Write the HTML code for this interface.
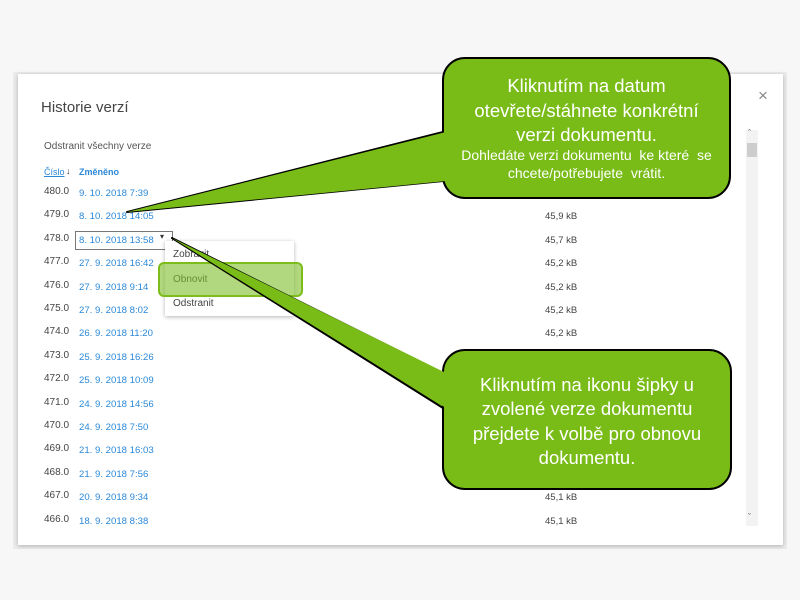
<!DOCTYPE html>
<html><head><meta charset="utf-8"><style>
*{margin:0;padding:0;box-sizing:border-box}
body{width:800px;height:600px;background:#f7f7f7;position:relative;overflow:hidden;font-family:"Liberation Sans",sans-serif}
.abs{position:absolute;white-space:nowrap}
#frame{position:absolute;left:13px;top:72px;width:774px;height:477px;background:#ebebeb}
#dlg{position:absolute;left:18px;top:74px;width:765px;height:471px;background:#fff;box-shadow:0 1px 4px rgba(0,0,0,.25)}
.n{font-size:10px;color:#444;left:44px}
.d{font-size:9.6px;color:#2b88d8;left:79px}
.s{font-size:9.5px;color:#444;left:545px}
</style></head><body>
<div id="frame"></div>
<div id="dlg"></div>
<div class="abs" style="left:41px;top:99px;font-size:15px;color:#444">Historie verzí</div>
<div class="abs" style="left:758px;top:86px;font-size:17px;color:#888">×</div>
<div class="abs" style="left:44px;top:141px;font-size:10px;color:#555">Odstranit všechny verze</div>
<div class="abs" style="left:44px;top:167px;font-size:9px;color:#2b88d8;text-decoration:underline">Číslo</div>
<div class="abs" style="left:66px;top:166px;font-size:9px;color:#333">↓</div>
<div class="abs" style="left:79px;top:167px;font-size:9px;color:#2b88d8;font-weight:bold">Změněno</div>
<div style="position:absolute;left:746px;top:130px;width:12px;height:396px;background:#f3f3f3"></div>
<div style="position:absolute;left:747px;top:143px;width:10px;height:14px;background:#cdcdcd"></div>
<div class="abs" style="left:748px;top:128px;font-size:9px;color:#555">ˆ</div>
<div class="abs" style="left:748px;top:512px;font-size:9px;color:#555">ˇ</div>
<div style="position:absolute;left:75px;top:231px;width:98px;height:19px;border:1px solid #777"></div>
<div class="abs" style="left:160px;top:232px;font-size:8px;color:#333">▾</div>
<div id="rows"></div>
<div style="position:absolute;left:165px;top:241px;width:129px;height:75px;background:#fff;box-shadow:0 1px 4px rgba(0,0,0,.3)"></div>
<div class="abs" style="left:173px;top:249px;font-size:10px;color:#444">Zobrazit</div>
<div class="abs" style="left:173px;top:274px;font-size:10px;color:#444">Obnovit</div>
<div class="abs" style="left:173px;top:298px;font-size:10px;color:#444">Odstranit</div>
<div style="position:absolute;left:158px;top:262px;width:145px;height:35px;border:2px solid #7cbd1a;border-radius:6px;background:rgba(125,190,40,.6)"></div>
<svg width="800" height="600" style="position:absolute;left:0;top:0">
<g stroke="#000" stroke-width="2" stroke-linejoin="round">
<polygon points="127,212 443,132 443,181" fill="#79bc17"/>
<rect x="443" y="58" width="287" height="140" rx="22" fill="#79bc17"/>
<polygon points="127,212 446,132 446,181" fill="#79bc17" stroke="none"/>
<polygon points="172,238 443,373 443,408" fill="#79bc17"/>
<rect x="443" y="350" width="288" height="139" rx="22" fill="#79bc17"/>
<polygon points="172,238 446,373 446,408" fill="#79bc17" stroke="none"/>
</g>
</svg>
<div class="abs" style="left:443px;top:74px;width:287px;text-align:center;color:#fff;font-size:18.5px;line-height:24.5px">Kliknutím na datum<br>otevřete/stáhnete konkrétní<br>verzi dokumentu.</div>
<div class="abs" style="left:443px;top:146px;width:287px;text-align:center;color:#fff;font-size:14px;line-height:18px">Dohledáte verzi dokumentu&nbsp; ke které&nbsp; se<br>chcete/potřebujete&nbsp; vrátit.</div>
<div class="abs" style="left:443px;top:373px;width:288px;text-align:center;color:#fff;font-size:18.5px;line-height:24.3px">Kliknutím na ikonu šipky u<br>zvolené verze dokumentu<br>přejdete k volbě pro obnovu<br>dokumentu.</div>
<script>
var r=[["480.0","9. 10. 2018 7:39",""],["479.0","8. 10. 2018 14:05","45,9 kB"],["478.0","8. 10. 2018 13:58","45,7 kB"],["477.0","27. 9. 2018 16:42","45,2 kB"],["476.0","27. 9. 2018 9:14","45,2 kB"],["475.0","27. 9. 2018 8:02","45,2 kB"],["474.0","26. 9. 2018 11:20","45,2 kB"],["473.0","25. 9. 2018 16:26",""],["472.0","25. 9. 2018 10:09",""],["471.0","24. 9. 2018 14:56",""],["470.0","24. 9. 2018 7:50",""],["469.0","21. 9. 2018 16:03",""],["468.0","21. 9. 2018 7:56",""],["467.0","20. 9. 2018 9:34","45,1 kB"],["466.0","18. 9. 2018 8:38","45,1 kB"]];
var h="";r.forEach(function(x,i){var y=187+i*23.4;h+='<div class="abs n" style="top:'+(y-1)+'px">'+x[0]+'</div><div class="abs d" style="top:'+(y+1)+'px">'+x[1]+'</div>'+(x[2]?'<div class="abs s" style="top:'+(y+1)+'px">'+x[2]+'</div>':'');});
document.getElementById("rows").innerHTML=h;
</script>
</body></html>
